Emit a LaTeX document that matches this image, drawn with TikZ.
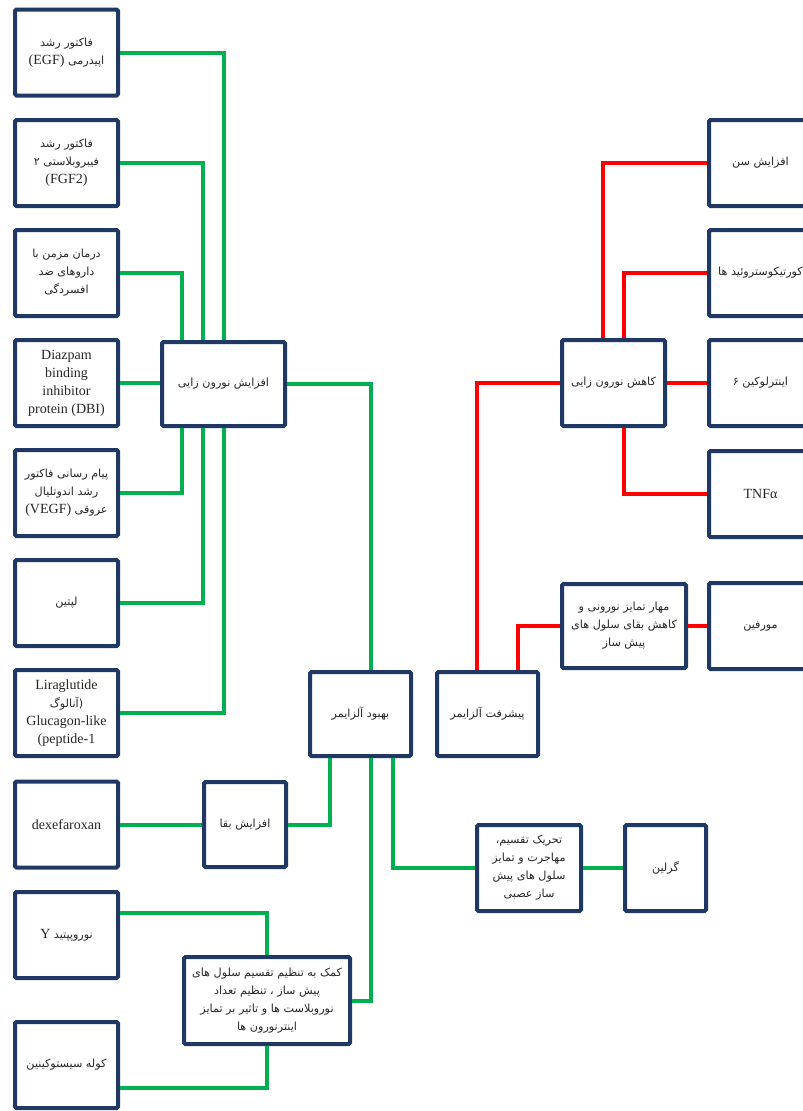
\documentclass[tikz,border=0pt]{standalone}
\usepackage{fontspec}
\setmainfont{Liberation Serif}
\newfontfamily\fa[Script=Arabic]{DejaVu Sans}
\TeXXeTstate=1
\definecolor{navy}{HTML}{1F3864}
\definecolor{grn}{HTML}{00B050}
\definecolor{rd}{HTML}{FF0000}
\newcommand\fas{\fa\fontsize{11.2}{18.5}\selectfont}
\newcommand\FA[1]{\beginR{\fas #1}\endR}
\tikzset{
  box/.style={draw=navy, line width=4pt, fill=white, rounded corners=1.5pt,
    inner sep=2pt, align=center, text=black!85,
    font=\fontsize{14}{18}\selectfont, minimum width=103pt, minimum height=86pt},
  gl/.style={draw=grn, line width=4pt},
  rl/.style={draw=rd, line width=4pt}
}
\begin{document}
\begin{tikzpicture}[x=1pt,y=-1pt]
\clip (0,0) rectangle (803,1111);
\fill[white] (0,0) rectangle (803,1111);
% left column
\node[box] (n1) at (66.5,52.5) {\FA{فاکتور رشد}\\\beginR{\fas اپیدرمی} \beginL(EGF)\endL\endR};
\node[box] (n2) at (66.5,163) {\FA{فاکتور رشد}\\\FA{فیبروبلاستی ۲}\\(FGF2)};
\node[box] (n3) at (66.5,273) {\FA{درمان مزمن با}\\\FA{داروهای ضد}\\\FA{افسردگی}};
\node[box] (n4) at (66.5,383) {Diazpam\\binding\\inhibitor\\protein (DBI)};
\node[box] (n5) at (66.5,493) {\FA{پیام رسانی فاکتور}\\\FA{رشد اندوتلیال}\\\beginR{\fas عروقی} \beginL(VEGF)\endL\endR};
\node[box] (n6) at (66.5,603) {\FA{لپتین}};
\node[box] (n7) at (66.5,713) {Liraglutide\\\FA{(آنالوگ}\\Glucagon-like\\(peptide-1};
\node[box] (n8) at (66.5,824.5) {dexefaroxan};
\node[box] (n9) at (66.5,935) {\beginR{\fas نوروپپتید} \beginL Y\endL\endR};
\node[box] (n10) at (66.5,1065) {\FA{کوله سیستوکینین}};
% middle
\node[box, minimum width=123pt, minimum height=84pt] (hub) at (223.5,384) {\FA{افزایش نورون زایی}};
\node[box, minimum width=82pt, minimum height=85pt] (baqa) at (245,824.5) {\FA{افزایش بقا}};
\node[box, minimum width=166pt, minimum height=87pt] (komak) at (267,1000.5) {\FA{کمک به تنظیم تقسیم سلول های}\\\FA{پیش ساز ، تنظیم تعداد}\\\FA{نوروبلاست ها و تاثیر بر تمایز}\\\FA{اینترنورون ها}};
\node[box, minimum width=101pt, minimum height=84pt] (bh) at (360.5,714) {\FA{بهبود آلزایمر}};
\node[box, minimum width=101pt, minimum height=84pt] (pish) at (487.5,714) {\FA{پیشرفت آلزایمر}};
\node[box, minimum width=104pt, minimum height=86pt] (tah) at (529,868) {\FA{تحریک تقسیم،}\\\FA{مهاجرت و تمایز}\\\FA{سلول های پیش}\\\FA{ساز عصبی}};
\node[box, minimum width=81pt, minimum height=86pt] (ger) at (665.5,868) {\FA{گرلین}};
\node[box, minimum width=103pt, minimum height=86pt] (kah) at (613.5,383) {\FA{کاهش نورون زایی}};
\node[box, minimum width=124pt, minimum height=84pt] (mah) at (624,626) {\FA{مهار تمایز نورونی و}\\\FA{کاهش بقای سلول های}\\\FA{پیش ساز}};
% right column
\node[box] (r1) at (760.5,163) {\FA{افزایش سن}};
\node[box] (r2) at (760.5,273) {\FA{کورتیکوستروئید ها}};
\node[box] (r3) at (760.5,383) {\FA{اینترلوکین ۶}};
\node[box] (r4) at (760.5,494) {TNFα};
\node[box] (r5) at (760.5,626) {\FA{مورفین}};
% green connectors
\draw[gl] (n1.east) -| (hub.north);
\draw[gl] (n2.east) -| ([xshift=-20.5pt]hub.north);
\draw[gl] (n3.east) -| ([xshift=-41.5pt]hub.north);
\draw[gl] (n4.east) -- (n4.east -| hub.west);
\draw[gl] (n5.east) -| ([xshift=-41.5pt]hub.south);
\draw[gl] (n6.east) -| ([xshift=-20.5pt]hub.south);
\draw[gl] (n7.east) -| (hub.south);
\draw[gl] (hub.east) -| ([xshift=10.5pt]bh.north);
\draw[gl] (n8.east) -- (baqa.west);
\draw[gl] (baqa.east) -| ([xshift=-30.5pt]bh.south);
\draw[gl] ([yshift=22pt]n9.east) -| (komak.north);
\draw[gl] ([yshift=-23pt]n10.east) -| (komak.south);
\draw[gl] (komak.east) -| ([xshift=10.5pt]bh.south);
\draw[gl] ([xshift=32.5pt]bh.south) |- (tah.west);
\draw[gl] (tah.east) -- (ger.west);
% red connectors
\draw[rl] (r1.west) -| ([xshift=-10.5pt]kah.north);
\draw[rl] (r2.west) -| ([xshift=10.5pt]kah.north);
\draw[rl] (kah.east) -- (r3.west);
\draw[rl] ([xshift=10pt]kah.south) |- (r4.west);
\draw[rl] (kah.west) -| ([xshift=-10.5pt]pish.north);
\draw[rl] (mah.west) -| ([xshift=30.5pt]pish.north);
\draw[rl] (r5.west) -- (mah.east);
\end{tikzpicture}
\end{document}
